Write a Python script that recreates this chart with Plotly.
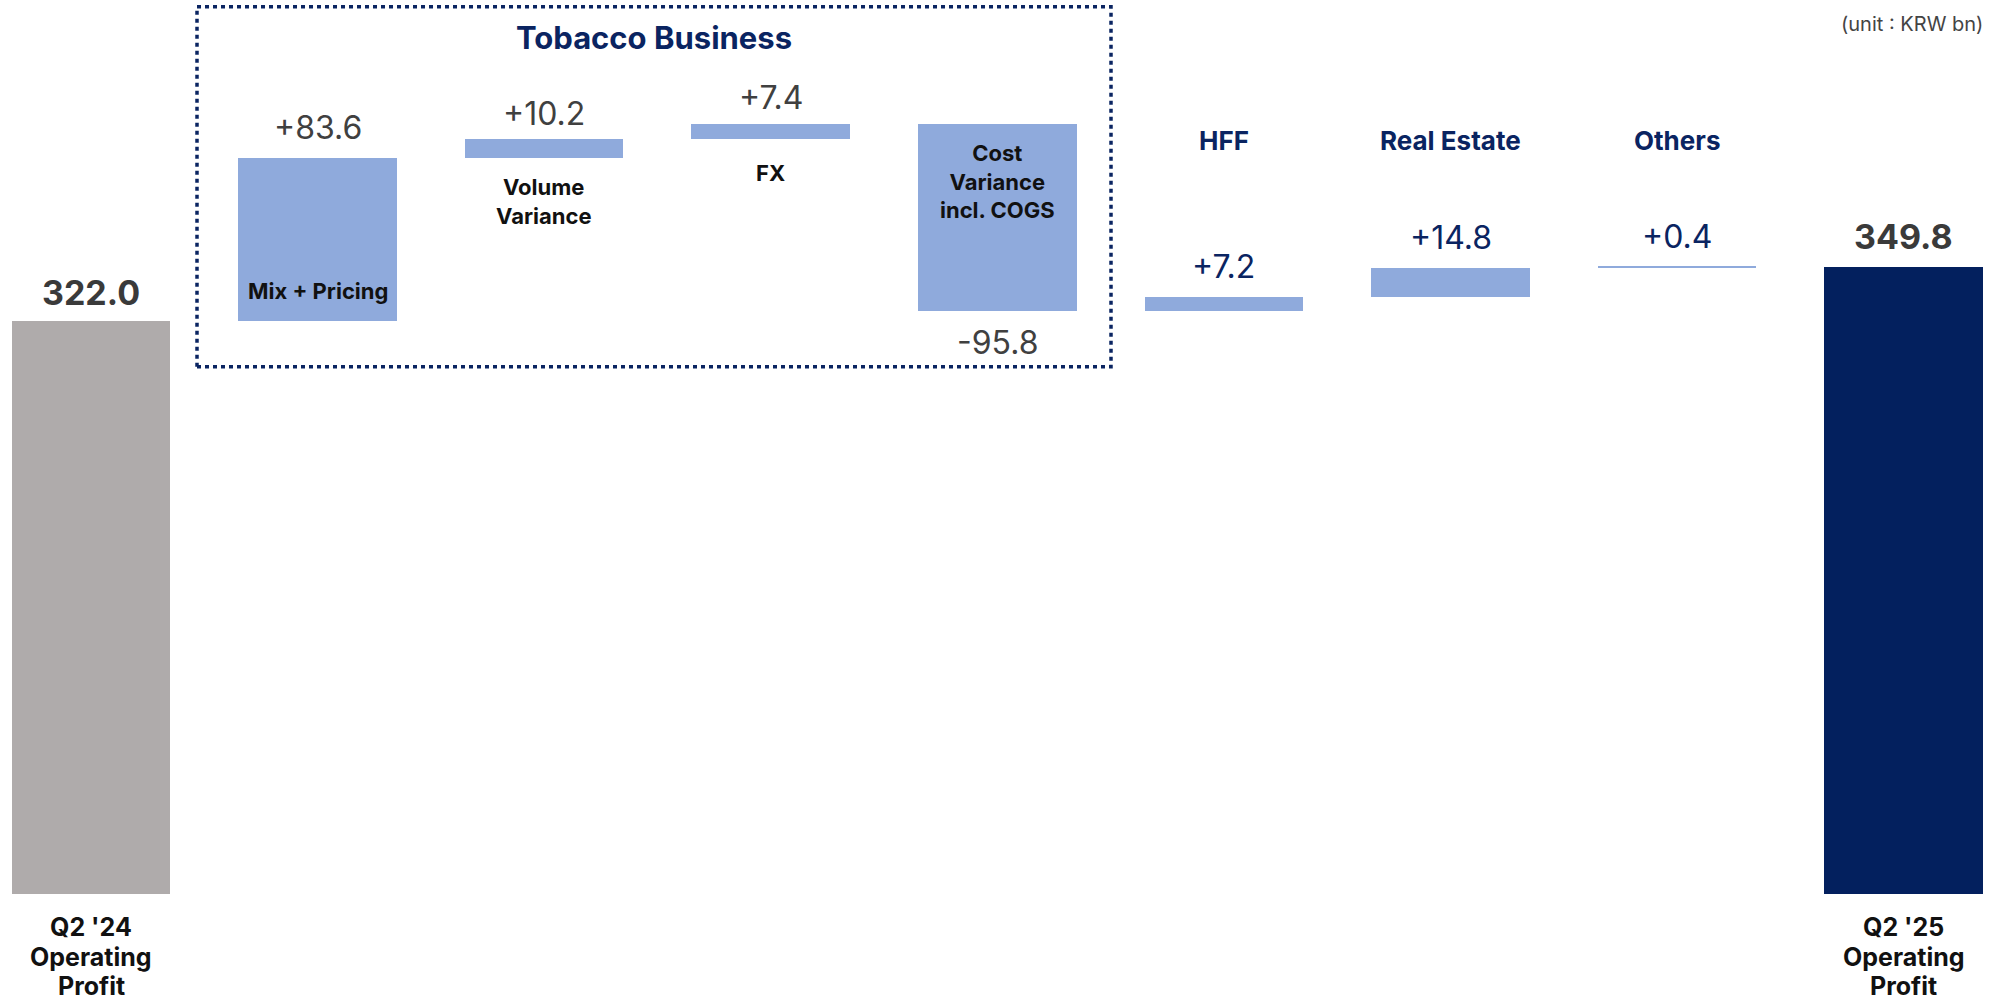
import plotly.graph_objects as go

# ---- data ----
categories = ["Q2 '24 Operating Profit", "Mix + Pricing", "Volume Variance", "FX",
              "Cost Variance incl. COGS", "HFF", "Real Estate", "Others",
              "Q2 '25 Operating Profit"]
display_labels = ["Q2 '24<br>Operating<br>Profit", "Mix + Pricing", "Volume<br>Variance", "FX",
                  "Cost<br>Variance<br>incl. COGS", "HFF", "Real Estate", "Others",
                  "Q2 '25<br>Operating<br>Profit"]
start_value = 322.0
deltas = [83.6, 10.2, 7.4, -95.8, 7.2, 14.8, 0.4]
end_value = 349.8
group_title = "Tobacco Business"
unit_text = "(unit : KRW bn)"

# ---- derived waterfall geometry ----
bases, heights = [0.0], [start_value]
running = start_value
for d in deltas:
    bases.append(running)
    heights.append(d)
    running += d
bases.append(0.0)
heights.append(end_value)
n = len(categories)
xs = list(range(n))

GRAY = "#AFABAB"
LIGHT = "#8FAADC"
NAVY = "#03205E"
colors = [GRAY] + [LIGHT] * len(deltas) + [NAVY]

FONT = "Inter, 'Noto Sans', sans-serif"

fig = go.Figure()
fig.add_trace(go.Bar(
    x=xs, y=heights, base=bases, width=0.70,
    marker=dict(color=colors, line=dict(width=0)),
    hoverinfo="skip", showlegend=False,
))

ann = []
# value labels (pixel gap above/below the bar edge)
label_gap = [29, 31, 25, 27, 32, 30, 30, 30, 30]
for i in range(n):
    b, h = bases[i], heights[i]
    top = max(b, b + h)
    bottom = min(b, b + h)
    if i == 0 or i == n - 1:
        ann.append(dict(x=i, y=top, xref="x", yref="y", text=f"<b>{h:.1f}</b>",
                        showarrow=False, yanchor="middle", yshift=label_gap[i],
                        font=dict(family=FONT, size=34, color="#3A3A3A")))
    else:
        col = "#404040" if i <= 4 else "#0A2461"
        if h < 0:
            ann.append(dict(x=i, y=bottom, xref="x", yref="y", text=f"{h:+.1f}",
                            showarrow=False, yanchor="middle", yshift=-label_gap[i],
                            font=dict(family=FONT, size=32, color=col)))
        else:
            ann.append(dict(x=i, y=top, xref="x", yref="y", text=f"{h:+.1f}",
                            showarrow=False, yanchor="middle", yshift=label_gap[i],
                            font=dict(family=FONT, size=32, color=col)))

# tobacco inner labels
inner = {1: ("bottom", 30), 2: ("bottom", -43), 3: ("bottom", -34), 4: ("top", -57)}
for i, (edge, shift) in inner.items():
    b, h = bases[i], heights[i]
    yv = min(b, b + h) if edge == "bottom" else max(b, b + h)
    ann.append(dict(x=i, y=yv, xref="x", yref="y", text=f"<b>{display_labels[i]}</b>",
                    showarrow=False, yanchor="middle", yshift=shift,
                    font=dict(family=FONT, size=22, color="#111111")))

# other segment titles
for i in (5, 6, 7):
    ann.append(dict(x=i, y=0.8423, xref="x", yref="paper", text=f"<b>{display_labels[i]}</b>",
                    showarrow=False, yanchor="middle",
                    font=dict(family=FONT, size=26, color="#0A2461")))

# bottom labels for totals (one annotation per line for tighter line spacing)
line_shifts = [-33, -63, -92]
for i in (0, n - 1):
    for line, ys in zip(display_labels[i].split("<br>"), line_shifts):
        ann.append(dict(x=i, y=0, xref="x", yref="paper", text=f"<b>{line}</b>",
                        showarrow=False, yanchor="middle", yshift=ys,
                        font=dict(family=FONT, size=25, color="#111111")))

# group title and unit
ann.append(dict(x=0.327, y=0.9586, xref="paper", yref="paper", text=f"<b>{group_title}</b>",
                showarrow=False, xanchor="center", yanchor="middle",
                font=dict(family=FONT, size=31, color="#0A2461")))
ann.append(dict(x=0.9925, y=0.973, xref="paper", yref="paper", text=unit_text,
                showarrow=False, xanchor="right", yanchor="middle",
                font=dict(family=FONT, size=20, color="#444444")))

fig.update_layout(
    width=2000, height=1003,
    margin=dict(l=0, r=0, t=0, b=109),
    paper_bgcolor="white", plot_bgcolor="white",
    annotations=ann,
    xaxis=dict(range=[-0.4016, 8.425], visible=False, fixedrange=True),
    yaxis=dict(range=[27.6, 487.0], visible=False, fixedrange=True),
    shapes=[dict(type="rect", xref="paper", yref="paper",
                 x0=0.0985, x1=0.5555, y0=0.5898, y1=0.9925,
                 line=dict(color="#0A2461", width=3.5, dash="4px,4px"),
                 fillcolor="rgba(0,0,0,0)")],
    bargap=0,
)

fig.write_html("out.html", config={"displayModeBar": False},
               post_script="document.body.style.margin='0';document.body.style.overflow='hidden';")
